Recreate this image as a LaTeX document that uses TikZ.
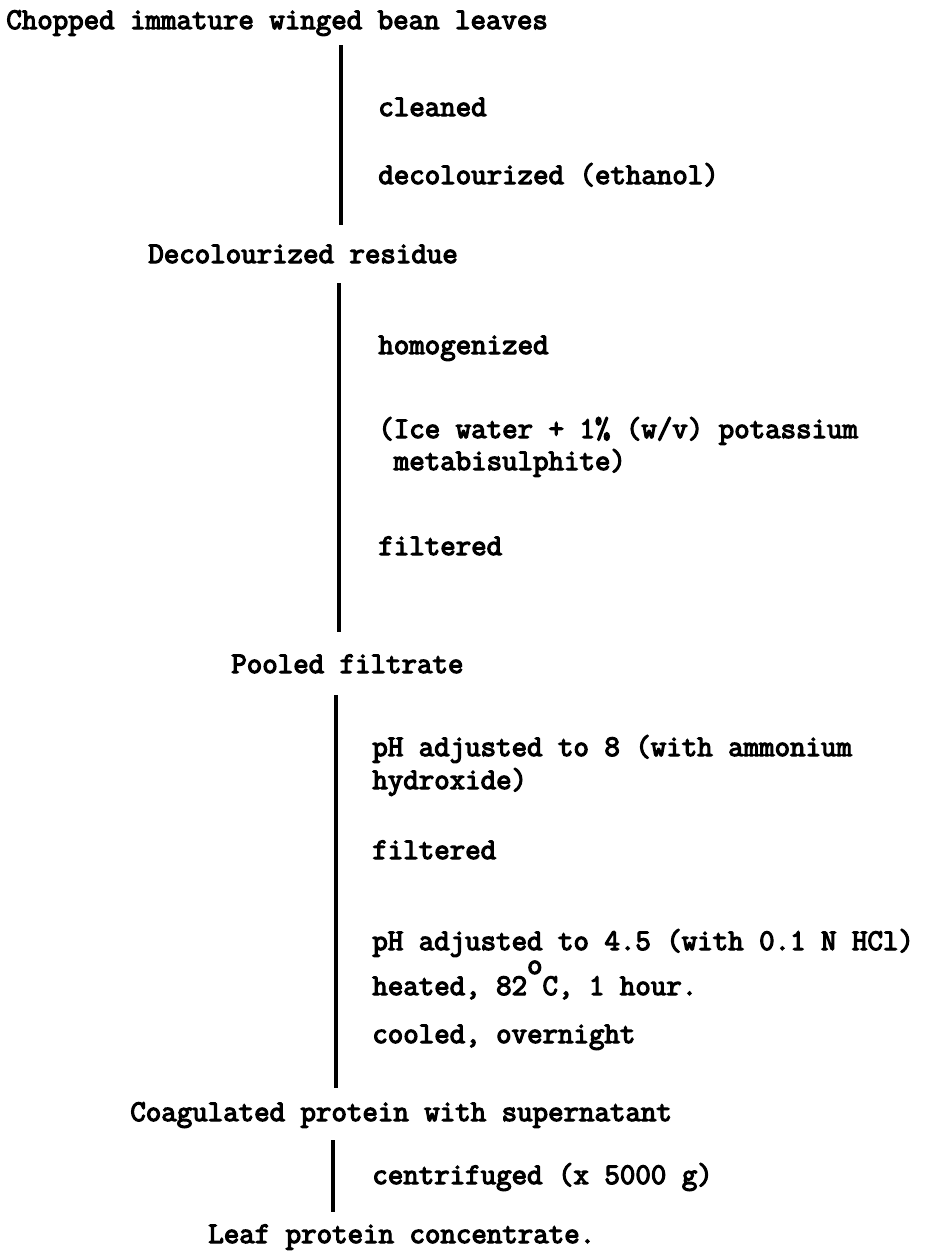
\documentclass[tikz,border=0pt]{standalone}
\usepackage{fontspec}
\newfontfamily\flowfont{Latin Modern Mono}[FakeBold=4]
\begin{document}
\begin{tikzpicture}[x=0.02cm,y=-0.02cm,
	every node/.style={inner sep=0pt,anchor=base west,
		font=\flowfont\fontsize{17.1}{20}\selectfont},
	flowline/.style={line width=2pt}]
	\useasboundingbox (0,0) rectangle (930,1251);

	% products
	\node (chop) at (6,29) {Chopped immature winged bean leaves};
	\node (residue) at (148,263) {Decolourized residue};
	\node (pooled) at (231,673) {Pooled filtrate};
	\node (coag) at (130,1121) {Coagulated protein with supernatant};
	\node (leaf) at (208,1243) {Leaf protein concentrate.};

	% steps
	\node (clean) at (378,116) {cleaned};
	\node (decol) at (378,184) {decolourized (ethanol)};
	\node (homog) at (378,354) {homogenized};
	\node (ice) at (378,438) {(Ice water + 1\% (w/v) potassium};
	\node (meta) at (378,470) {\ metabisulphite)};
	\node (filta) at (378,555) {filtered};
	\node (phhigh) at (372,756) {pH adjusted to 8 (with ammonium};
	\node (hydrox) at (372,789) {hydroxide)};
	\node (filtb) at (372,859) {filtered};
	\node (phlow) at (372,950) {pH adjusted to 4.5 (with 0.1 N HCl)};
	\node (heat) at (372,995) {heated, 82\raisebox{0.7em}{o}C, 1 hour.};
	\node (cool) at (372,1043) {cooled, overnight};
	\node (centri) at (372,1184) {centrifuged (x 5000 g)};

	% vertical lines
	\coordinate (a1) at (341,45);   \coordinate (a2) at (341,225);
	\coordinate (b1) at (339,283);  \coordinate (b2) at (339,632);
	\coordinate (c1) at (336,695);  \coordinate (c2) at (336,1088);
	\coordinate (d1) at (333,1140); \coordinate (d2) at (333,1212);
	\draw[flowline] (a1) -- (a2);
	\draw[flowline] (b1) -- (b2);
	\draw[flowline] (c1) -- (c2);
	\draw[flowline] (d1) -- (d2);

\end{tikzpicture}
\end{document}
